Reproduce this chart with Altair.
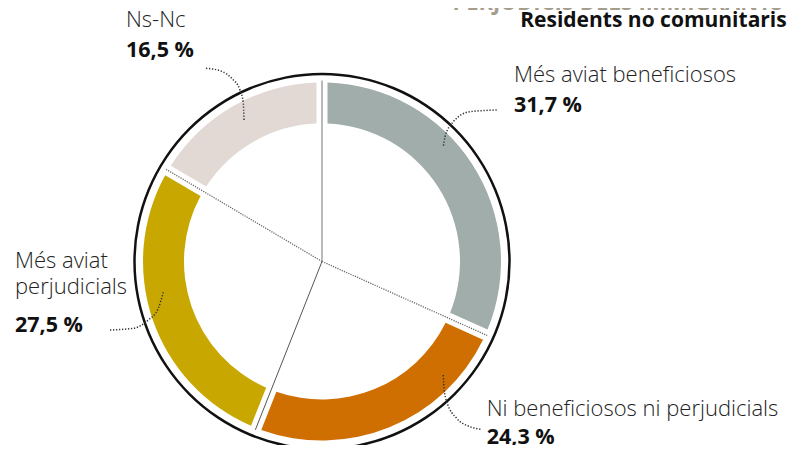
import altair as alt
import pandas as pd
import numpy as np

# ---- data ----
categories = ["Més aviat beneficiosos", "Ni beneficiosos ni perjudicials",
              "Més aviat perjudicials", "Ns-Nc"]
values = [31.7, 24.3, 27.5, 16.5]
colors = ["#a0adaa", "#cf6f02", "#c8a800", "#e2d9d5"]
title_top = "PERJUDICIS DELS IMMIGRANTS"
subtitle = "Residents no comunitaris"

# ---- layout ----
W, H = 782, 437
CX, CY = 314, 253.5
R_OUT, R_IN = 179, 138
R_RING = 187.5
R_SPOKE = 181
FONT = "Open Sans"

xs = alt.Scale(domain=[0, W], range=[0, W], nice=False, zero=False)
ys = alt.Scale(domain=[0, H], range=[0, H], nice=False, zero=False)

df = pd.DataFrame({"cat": categories, "value": values, "order": list(range(len(values)))})

ring = alt.Chart(pd.DataFrame({"k": [0]})).mark_arc(
    radius=R_RING + 1.25, radius2=R_RING - 1.25, theta=0, theta2=2 * np.pi, color="#111111"
).encode(x=alt.value(CX), y=alt.value(CY))

arcs = alt.Chart(df).mark_arc(radius=R_OUT, radius2=R_IN, padAngle=0.0487).encode(
    theta=alt.Theta("value:Q", stack=True, scale=alt.Scale(domain=[0, sum(values)], range=[0, 2 * np.pi])),
    order=alt.Order("order:Q"),
    color=alt.Color("cat:N", scale=alt.Scale(domain=categories, range=colors), legend=None),
    x=alt.value(CX), y=alt.value(CY),
)

# spokes at segment boundaries, derived from data
cum = np.concatenate([[0], np.cumsum(values)[:-1]]) / sum(values) * 2 * np.pi
spk = pd.DataFrame({
    "x": [CX] * len(cum), "y": [CY] * len(cum),
    "x2": CX + R_SPOKE * np.sin(cum), "y2": CY - R_SPOKE * np.cos(cum),
    "i": list(range(len(cum))),
})
spoke_solid_light = alt.Chart(spk[spk.i == 0]).mark_rule(color="#9c9c9c", strokeWidth=1.4).encode(
    x=alt.X("x:Q", scale=xs, axis=None), y=alt.Y("y:Q", scale=ys, axis=None), x2="x2:Q", y2="y2:Q")
spoke_solid_dark = alt.Chart(spk[spk.i == 2]).mark_rule(color="#555555", strokeWidth=1).encode(
    x=alt.X("x:Q", scale=xs, axis=None), y=alt.Y("y:Q", scale=ys, axis=None), x2="x2:Q", y2="y2:Q")
spoke_dotted = alt.Chart(spk[spk.i.isin([1, 3])]).mark_rule(
    color="#666666", strokeWidth=1.3, strokeDash=[1.2, 1.2]).encode(
    x=alt.X("x:Q", scale=xs, axis=None), y=alt.Y("y:Q", scale=ys, axis=None), x2="x2:Q", y2="y2:Q")

# leader lines (layout annotations, svg pixel coords)
leader_pts = {
    "Ns-Nc": [(198, 60.3), (212, 62.7), (223.7, 70.3), (232, 82), (235.3, 95.3), (236, 112)],
    "Més aviat beneficiosos": [(488.7, 102), (462, 103.7), (445.3, 113.7), (437, 128.7), (435.3, 139.3)],
    "Més aviat perjudicials": [(102, 322), (125.3, 320.3), (140.3, 312), (150.3, 300.3), (155.3, 284.3)],
    "Ni beneficiosos ni perjudicials": [(435.3, 367), (436, 380.3), (438.7, 393.7), (448.7, 410.3),
                                        (462, 418.7), (473.7, 421.3)],
}
rows = []
for k, pts in leader_pts.items():
    for j, (px, py) in enumerate(pts):
        rows.append({"cat": k, "j": j, "x": px, "y": py})
leaders = alt.Chart(pd.DataFrame(rows)).mark_line(
    interpolate="monotone", color="#333333", strokeWidth=1.5, strokeDash=[1.3, 1.7]).encode(
    x=alt.X("x:Q", scale=xs, axis=None), y=alt.Y("y:Q", scale=ys, axis=None),
    detail="cat:N", order="j:Q")

def pct(v):
    return f"{v:.1f}".replace(".", ",") + " %"

# labels
light = pd.DataFrame([
    {"t": categories[3], "x": 118, "y": 18.7},
    {"t": categories[0], "x": 506, "y": 74.3},
    {"t": "Més aviat", "x": 7, "y": 260.3},
    {"t": "perjudicials", "x": 7, "y": 286.3},
    {"t": categories[1], "x": 478.7, "y": 407.7},
])
bold = pd.DataFrame([
    {"t": pct(values[3]), "x": 118, "y": 49.3},
    {"t": pct(values[0]), "x": 506, "y": 104.3},
    {"t": pct(values[2]), "x": 7, "y": 323.7},
    {"t": pct(values[1]), "x": 478.7, "y": 435.5},
])
txt_light = alt.Chart(light).mark_text(
    align="left", baseline="alphabetic", font=FONT, fontSize=22, fontWeight=300, color="#222222").encode(
    x=alt.X("x:Q", scale=xs, axis=None), y=alt.Y("y:Q", scale=ys, axis=None), text="t:N")
txt_bold = alt.Chart(bold).mark_text(
    align="left", baseline="alphabetic", font=FONT, fontSize=21.5, fontWeight="bold", color="#111111").encode(
    x=alt.X("x:Q", scale=xs, axis=None), y=alt.Y("y:Q", scale=ys, axis=None), text="t:N")

txt_sub = alt.Chart(pd.DataFrame([{"t": subtitle, "x": 778.7, "y": 19.3}])).mark_text(
    align="right", baseline="alphabetic", font=FONT, fontSize=21, fontWeight="bold", color="#111111").encode(
    x=alt.X("x:Q", scale=xs, axis=None), y=alt.Y("y:Q", scale=ys, axis=None), text="t:N")
txt_top = alt.Chart(pd.DataFrame([{"t": title_top, "x": 775, "y": 1.5}])).mark_text(
    align="right", baseline="alphabetic", font=FONT, fontSize=22, fontWeight="bold", color="#a59d8b").encode(
    x=alt.X("x:Q", scale=xs, axis=None), y=alt.Y("y:Q", scale=ys, axis=None), text="t:N")

chart = alt.layer(
    ring, arcs, spoke_solid_light, spoke_solid_dark, spoke_dotted, leaders,
    txt_light, txt_bold, txt_sub, txt_top
).properties(
    width=W, height=H, padding=0, autosize=alt.AutoSizeParams(type="none")
).configure_view(stroke=None)

chart.save("out.html", embed_options={"renderer": "svg", "actions": False})
